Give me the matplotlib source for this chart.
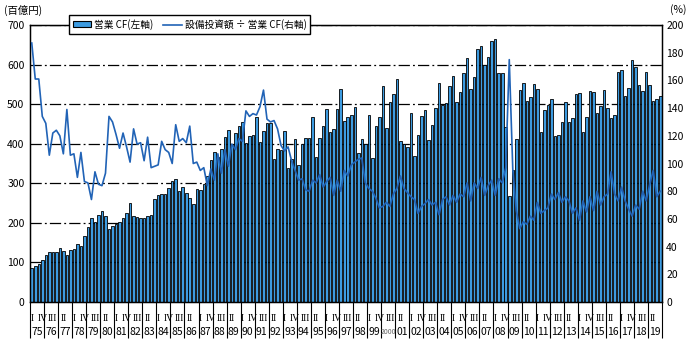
import matplotlib
matplotlib.use("Agg")
import matplotlib.pyplot as plt
from matplotlib.patches import Patch
from matplotlib.lines import Line2D

plt.rcParams['font.family'] = ['Noto Sans CJK JP', 'DejaVu Sans']

# quarterly series, 1975 Q1 .. 2019 Q4
YEARS = list(range(1975, 2020))
YEAR_LABELS = ['2000' if y == 2000 else f"{y % 100:02d}" for y in YEARS]
QUARTER_NUMERALS = ['I', 'II', 'III', 'IV']

# 営業CF (百億円), left axis
operating_cf = [
    87, 92, 97, 105, 119, 127, 127, 127, 137, 130,
    119, 132, 134, 147, 142, 167, 189, 213, 203, 220,
    230, 218, 184, 192, 197, 203, 213, 225, 250, 218,
    215, 213, 213, 218, 220, 260, 271, 273, 273, 288,
    306, 311, 281, 291, 276, 263,
    248, 286, 283, 297, 318, 359, 379, 366, 387, 417,
    434, 397, 427, 445, 455, 402, 419, 422, 467, 405,
    433, 452, 452, 361, 387, 384, 432, 339, 361, 412,
    346, 399, 414, 414, 467, 366, 414, 445, 488, 430,
    437, 488, 538,
    457, 467, 472, 492, 376, 412, 399, 472, 364, 445,
    467, 545, 440, 505, 525, 563, 407, 399, 392, 477,
    369, 422, 470, 485, 409, 447, 490, 553, 497, 502,
    545, 571, 505, 530, 578, 616, 538, 568, 639, 646,
    598, 619, 659, 664, 578, 578, 442, 268,
    334, 412, 535, 553, 508, 518, 550, 538, 429, 485,
    497, 513, 419, 422, 455, 505, 455, 465, 525, 527,
    429, 467, 533, 530, 477, 495, 535, 490, 465, 472,
    581, 586, 521, 541, 611, 593, 548, 532, 581, 548,
    508, 513, 521,
]

# 設備投資額 ÷ 営業CF (%), right axis
capex_ratio = [
    187, 161, 161, 134, 129, 106, 122, 124, 120, 107,
    139, 106, 107, 90, 108, 87, 86, 74, 94, 85,
    84, 93, 134, 130, 121, 111, 122, 112, 101,
    125, 114, 115, 102, 119, 97, 98, 99, 116, 110,
    108, 100, 128, 116, 118, 115, 127, 100, 101, 95,
    97, 84, 96, 88, 107, 93, 110, 98, 114, 110,
    118, 116, 138, 134, 136, 135, 141, 153, 132, 130,
    131, 125, 113, 109, 112, 102, 95, 88, 89, 81,
    80, 88, 86, 92, 83, 87, 90, 77, 88,
    80, 95, 91, 99, 101, 103, 104, 86, 82, 80,
    75, 68, 69, 72, 69, 78, 82, 91, 82, 79,
    76, 74, 64, 69, 71, 74, 70, 72, 63, 74, 76,
    70, 77, 72, 78, 76, 86, 73, 86, 82, 90,
    77, 84, 88, 77, 89, 86, 97,
    175, 96, 66, 53, 58, 56, 62, 59, 72, 64,
    66, 68, 78, 74, 79, 72, 76, 73, 64, 68,
    59, 73, 65, 76, 66, 80, 70, 76, 78, 94,
    78, 73, 83, 73, 67, 62, 70, 67, 80, 73,
    85, 95, 76, 80,
]

BAR_COLOR = "#3d9be0"
LINE_COLOR = "#2163b6"
W, H = 690, 345

fig = plt.figure(figsize=(W / 100, H / 100), dpi=100)
ax = fig.add_axes([30 / W, 43 / H, 632 / W, 277 / H])

x = list(range(len(operating_cf)))
ax.bar(x, operating_cf, width=0.72, color=BAR_COLOR, edgecolor="black",
       linewidth=0.6, zorder=2)
ax.set_xlim(-0.5, len(operating_cf) - 0.5)
ax.set_ylim(0, 700)
ax.set_yticks(range(0, 701, 100))
ax.set_xticks([])
ax.yaxis.grid(True, color="black", linewidth=0.9, linestyle=(0, (9, 2.5, 1.5, 2.5)))
ax.set_axisbelow(True)
ax.tick_params(axis="y", length=0, pad=4, labelsize=7.5)
for sp in ax.spines.values():
    sp.set_linewidth(1.0)

ax2 = ax.twinx()
ax2.plot(x, capex_ratio, color=LINE_COLOR, linewidth=1.2, zorder=3)
ax2.set_ylim(0, 200)
ax2.set_yticks(range(0, 201, 20))
ax2.tick_params(axis="y", length=0, pad=3, labelsize=7.5)

# x label table: quarter numerals every 3 quarters, years in boxed cells
xt = ax.get_xaxis_transform()
boundaries = [4 * k - 0.5 for k in range(len(YEARS) + 1)]
ax.vlines(boundaries, -0.13, 0, transform=xt, clip_on=False, color="black", linewidth=0.8)
for i in range(0, len(operating_cf), 3):
    ax.text(i, -0.058, QUARTER_NUMERALS[i % 4], transform=xt, ha="center", va="center",
            fontsize=7, family="Liberation Serif")
for k, lab in enumerate(YEAR_LABELS):
    fs = 5 if len(lab) > 2 else 7.5
    ax.text(4 * k + 1.5, -0.108, lab, transform=xt, ha="center", va="center",
            fontsize=fs, color="#666666" if len(lab) > 2 else "black")

fig.text(4 / W, 1 - 10 / H, "(百億円)", ha="left", va="center", fontsize=7.5)
fig.text(678 / W, 1 - 10 / H, "(%)", ha="center", va="center", fontsize=7.5)

handles = [Patch(facecolor=BAR_COLOR, edgecolor="black", linewidth=0.8),
           Line2D([], [], color=LINE_COLOR, linewidth=1.2)]
leg = ax2.legend(handles, ["営業 CF(左軸)", "設備投資額 ÷ 営業 CF(右軸)"],
                 loc="upper left", bbox_to_anchor=(69 / W, 1 - 15 / H),
                 bbox_transform=fig.transFigure, ncol=2, frameon=True, fancybox=False,
                 edgecolor="black", framealpha=1, borderaxespad=0, fontsize=7,
                 handlelength=1.9, handleheight=0.5, columnspacing=1.0,
                 handletextpad=0.3, borderpad=0.4)
leg.get_frame().set_linewidth(1.0)
leg.set_zorder(10)

fig.savefig("out.png", dpi=100)
